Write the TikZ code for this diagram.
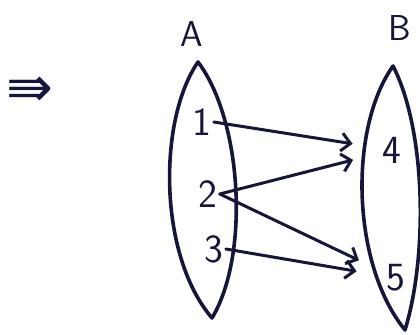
\documentclass[tikz,border=0pt]{standalone}
\usepackage{fontspec}
\newfontfamily\symfont{DejaVu Sans}
\usetikzlibrary{arrows.meta,positioning}
\definecolor{ink}{RGB}{22,22,58}

\begin{document}
\begin{tikzpicture}[x=0.5pt, y=-0.5pt, ink,
    setline/.style={line width=1.8pt, line join=round, line cap=round},
    elem/.style={inner sep=1pt, font=\fontsize{20}{22}\sffamily},
    setname/.style={font=\fontsize{18}{20}\sffamily},
    mapto/.style={line width=1.5pt, line cap=round, -{Straight Barb[length=4.5pt,width=9pt]}, shorten >=14pt}
]
    \useasboundingbox (0,0) rectangle (420,335);

    % the two sets
    \draw[setline] (198,62) .. controls (158,120) and (158,255) .. (212,318)
                   .. controls (250,255) and (242,120) .. cycle;
    \draw[setline] (393,66) .. controls (348,130) and (352,265) .. (405,330)
                   .. controls (428,255) and (426,130) .. cycle;
    \node[setname] (nameA) at (192,34) {A};
    \node[setname] (nameB) at (400,28) {B};

    % elements
    \node[elem] (a1) at (202,122) {1};
    \node[elem] (a2) at (208,194) {2};
    \node[elem] (a3) at (214,249) {3};
    \node[elem] (b4) at (392,150) {4};
    \node[elem] (b5) at (396,278) {5};

    \node (imp) at (30,92) {\symfont\fontsize{28}{30}\selectfont ⇛};

    % mapping
    \draw[mapto] (a1.east) -- (b4);
    \draw[mapto] (a2.east) -- (b4);
    \draw[mapto] (a2.east) -- (b5);
    \draw[mapto] (a3.east) -- (b5);
\end{tikzpicture}
\end{document}
